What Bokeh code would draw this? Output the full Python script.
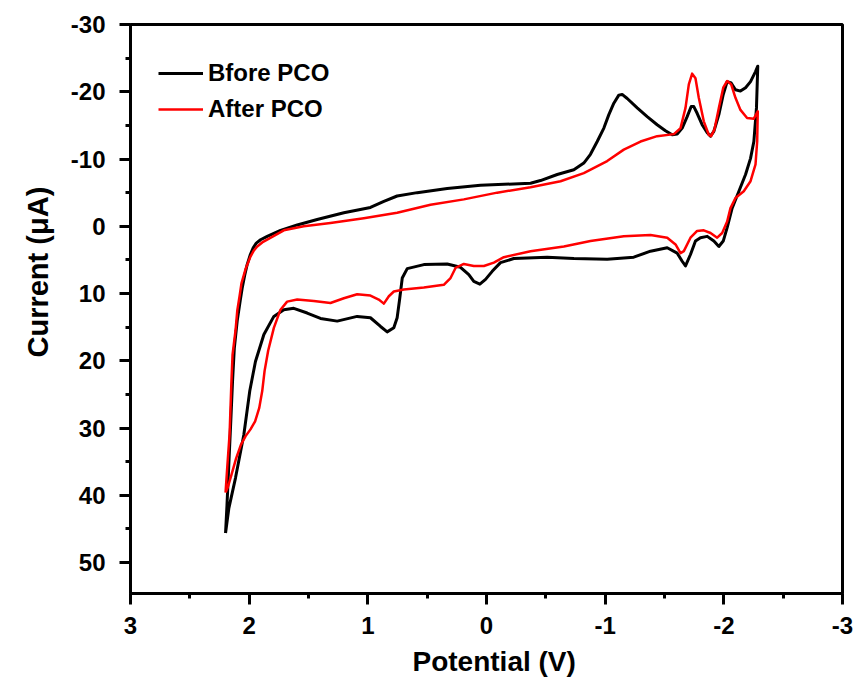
from bokeh.plotting import figure
from bokeh.models import Range1d, FixedTicker, Legend, LegendItem, Title
from bokeh.embed import file_html
from bokeh.resources import INLINE

# ---- data ----
before_x = [2.199, 2.187, 2.173, 2.155, 2.140, 2.125, 2.101, 2.075, 2.059, 2.038, 2.017, 1.990,
            1.966, 1.940, 1.904,
            1.848, 1.736, 1.595, 1.427, 1.202, 0.978, 0.865, 0.753, 0.584, 0.331, 0.051, -0.371,
            -0.455, -0.596, -0.736, -0.820, -0.876, -0.933, -0.989, -1.031, -1.073, -1.115,
            -1.143, -1.186, -1.270, -1.354, -1.438, -1.508, -1.565, -1.607, -1.649, -1.691,
            -1.725, -1.747, -1.775, -1.817, -1.860, -1.888, -1.916, -1.958, -1.995, -2.028,
            -2.062, -2.098, -2.140, -2.183, -2.225, -2.267, -2.286,
            -2.275, -2.253, -2.225, -2.183, -2.127, -2.070, -2.028, -1.995, -1.958, -1.916,
            -1.860, -1.803, -1.761, -1.719, -1.677, -1.649, -1.607, -1.523, -1.382, -1.241,
            -1.017, -0.736, -0.511, -0.230, -0.118, -0.048, 0.008, 0.056, 0.107, 0.149, 0.219,
            0.331, 0.528, 0.668, 0.710, 0.731, 0.753, 0.781, 0.837, 0.893, 0.978, 1.090, 1.258,
            1.399, 1.511, 1.624, 1.708, 1.792, 1.876, 1.947, 1.995, 2.045, 2.115, 2.171, 2.199]
before_y = [45.6, 41.5, 36.0, 29.0, 23.0, 18.1, 14.1, 11.0, 9.2, 7.3, 5.7, 4.2,
            3.2, 2.5, 2.0,
            1.5, 0.6, -0.2, -1.0, -2.0, -2.8, -3.7, -4.5, -5.0, -5.6, -6.1, -6.4,
            -6.8, -7.7, -8.4, -9.4, -10.7, -12.6, -14.6, -16.6, -18.3, -19.5,
            -19.6, -19.0, -17.6, -16.3, -15.1, -14.2, -13.6, -13.7, -14.6, -16.3,
            -17.8, -17.8, -16.8, -15.1, -13.9, -13.4, -14.1, -16.6, -19.6, -21.5,
            -21.3, -20.3, -20.1, -20.6, -21.5, -23.0, -23.8,
            -17.6, -12.6, -10.1, -7.7, -5.2, -2.7, 0.2, 2.2, 3.0, 2.2,
            1.5, 1.7, 2.2, 4.2, 5.9, 5.2, 4.0, 3.2, 3.7, 4.6,
            4.9, 4.8, 4.6, 4.8, 5.4, 6.7, 7.9, 8.6, 8.2, 7.2, 6.1,
            5.6, 5.7, 6.3, 7.7, 10.7, 13.6, 15.1, 15.7, 14.9, 13.6, 13.4, 14.1,
            13.7, 12.9, 12.2, 12.4, 13.4, 16.1, 20.1, 24.5, 31.0, 37.4, 41.9, 45.6]

after_x = [2.199, 2.185, 2.165, 2.150, 2.140, 2.115, 2.100, 2.080, 2.065, 2.031, 1.989, 1.960,
           1.932, 1.890, 1.848,
           1.708, 1.540, 1.315, 1.034, 0.753, 0.472, 0.191, -0.090, -0.371, -0.624, -0.820,
           -1.017, -1.157, -1.298, -1.438, -1.579, -1.635, -1.677, -1.705, -1.733, -1.761,
           -1.789, -1.831, -1.873, -1.893, -1.921, -1.958, -1.995, -2.028, -2.062, -2.098,
           -2.140, -2.196, -2.253, -2.286,
           -2.281, -2.267, -2.225, -2.168, -2.098, -2.056, -2.028, -1.986, -1.944, -1.888,
           -1.831, -1.775, -1.719, -1.663, -1.635, -1.593, -1.523, -1.382, -1.157, -0.876,
           -0.652, -0.371, -0.146, -0.062, 0.022, 0.107, 0.191, 0.261, 0.303, 0.360, 0.528,
           0.697, 0.781, 0.823, 0.865, 0.908, 0.978, 1.090, 1.202, 1.315, 1.455, 1.595, 1.680,
           1.736, 1.792, 1.840, 1.870, 1.890, 1.915, 1.950, 1.989, 2.030, 2.070, 2.110, 2.150,
           2.180, 2.199]
after_y = [39.6, 35.9, 30.9, 23.3, 19.1, 15.5, 12.5, 10.3, 8.5, 6.4, 4.5, 3.6,
           3.0, 2.4, 2.0,
           0.6, 0.0, -0.5, -1.2, -2.0, -3.2, -4.0, -5.0, -5.8, -6.7, -7.9,
           -9.7, -11.4, -12.6, -13.4, -13.7, -14.6, -17.6, -21.1, -22.7, -22.0,
           -19.1, -15.6, -13.6, -13.4, -14.4, -17.6, -20.6, -21.6, -21.1, -19.1,
           -17.3, -16.1, -16.0, -17.1,
           -12.6, -9.2, -6.7, -5.2, -4.2, -2.7, -0.7, 1.0, 1.7, 1.0,
           0.6, 0.7, 1.7, 3.7, 4.0, 2.7, 1.7, 1.3, 1.5, 2.2,
           3.0, 3.7, 4.6, 5.4, 5.9, 5.9, 5.6, 6.2, 7.7, 8.7, 9.1,
           9.4, 9.7, 10.4, 11.5, 10.9, 10.3, 10.1, 10.7, 11.4, 11.1, 10.9, 11.2,
           12.4, 15.1, 18.5, 21.5, 24.5, 27.0, 29.0, 30.2, 31.2, 32.5, 34.5, 37.0,
           38.8, 39.6]

x_ticks = [3, 2, 1, 0, -1, -2, -3]
x_tick_labels = ["3", "2", "1", "0", "-1", "-2", "-3"]
x_minor = [2.5, 1.5, 0.5, -0.5, -1.5, -2.5]
y_ticks = [-30, -20, -10, 0, 10, 20, 30, 40, 50]
y_tick_labels = ["-30", "-20", "-10", "0", "10", "20", "30", "40", "50"]
y_minor = [-25, -15, -5, 5, 15, 25, 35, 45]
x_title = "Potential (V)"
y_title = "Current (μA)"

FONT = "Liberation Sans"

p = figure(width=853, height=684, output_backend="svg", toolbar_location=None,
           x_range=Range1d(3, -3), y_range=Range1d(54.6, -30),
           min_border_left=130, min_border_right=11, min_border_top=24, min_border_bottom=91)
p.grid.visible = False
p.background_fill_color = "white"
p.outline_line_color = "black"
p.outline_line_width = 3

r1 = p.line(before_x, before_y, line_color="black", line_width=3, line_join="round")
r2 = p.line(after_x, after_y, line_color="#ff0000", line_width=2.5, line_join="round")

for ax, ticks, labels, minor in ((p.xaxis[0], x_ticks, x_tick_labels, x_minor),
                                 (p.yaxis[0], y_ticks, y_tick_labels, y_minor)):
    ax.ticker = FixedTicker(ticks=ticks, minor_ticks=minor)
    ax.major_label_overrides = {t: l for t, l in zip(ticks, labels)}
    ax.axis_line_width = 3
    ax.axis_line_color = "black"
    ax.major_tick_line_width = 3
    ax.minor_tick_line_width = 3
    ax.major_tick_in = 0
    ax.major_tick_out = 11
    ax.minor_tick_in = 0
    ax.minor_tick_out = 5
    ax.major_label_text_font = FONT
    ax.major_label_text_font_style = "bold"
    ax.major_label_text_font_size = "24px"
    ax.major_label_text_color = "black"
p.yaxis[0].major_label_standoff = 14
p.xaxis[0].major_label_standoff = 12

ty = Title(text=y_title, align="left", offset=236, standoff=27, text_font=FONT,
           text_color="black", text_font_style="bold", text_font_size="29px")
tx = Title(text=x_title, align="left", offset=282, standoff=15, text_font=FONT,
           text_color="black", text_font_style="bold", text_font_size="28px")
p.add_layout(ty, "left")
p.add_layout(tx, "below")

legend = Legend(items=[LegendItem(label="Bfore PCO", renderers=[r1]),
                       LegendItem(label="After PCO", renderers=[r2])],
                location=(28, 466), margin=0, padding=0, spacing=0,
                glyph_width=45, glyph_height=36, label_height=36, label_standoff=5,
                label_text_font=FONT, label_text_font_style="bold", label_text_color="black",
                label_text_font_size="24px", background_fill_alpha=0, border_line_alpha=0)
p.add_layout(legend)

open("out.html", "w").write(file_html(p, INLINE))
